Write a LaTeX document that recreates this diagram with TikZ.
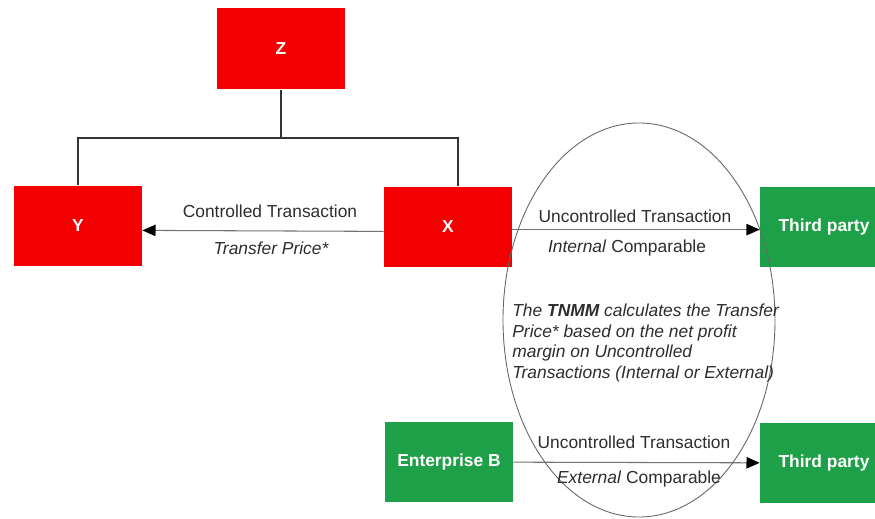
\documentclass[tikz,border=0pt]{standalone}
\usepackage{fontspec}
\setmainfont{Liberation Sans}
\usetikzlibrary{arrows.meta}

\definecolor{boxred}{RGB}{245,0,0}
\definecolor{boxgreen}{RGB}{30,160,72}
\definecolor{txtgray}{RGB}{45,45,45}

\begin{document}
\begin{tikzpicture}[x=0.02cm, y=-0.02cm,
    every node/.style={font=\fontsize{9.9}{11.9}\selectfont, text=txtgray},
    entity/.style={minimum width=2.56cm, minimum height=1.62cm, inner sep=0pt,
      text=white, font=\fontsize{9.9}{11.9}\selectfont\bfseries},
    related/.style={entity, fill=boxred},
    outside/.style={entity, fill=boxgreen},
    flow/.style={draw=black!55, line width=0.6pt, -{Triangle[length=7.5pt,width=6.5pt,black]}}]
  \useasboundingbox (0,0) rectangle (875,519);

  % group
  \node[related] (Z) at (281,49) {Z};
  \node[related] (Y) at (78,226) {Y};
  \node[related] (X) at (448,227) {X};
  \coordinate (bar) at (281,138);
  \draw[black!80, line width=0.6pt] (Z.south) -- (bar);
  \draw[black!80, line width=0.6pt] (Y.north) |- (bar) -| ([xshift=5.7pt]X.north);

  % third parties
  \node[outside] (T1) at (824,227) {Third party};
  \node[outside] (B) at (449,462) {Enterprise B};
  \node[outside] (T2) at (824,463) {Third party};

  \draw[flow] ([yshift=-2.5pt]X.west) -- ([yshift=-2.5pt]Y.east);
  \draw[flow] ([yshift=-1.5pt]X.east) -- ([yshift=-1.5pt]T1.west);
  \draw[flow] (B) -- (T2);

  \draw[black!60, line width=0.5pt] (639,320) ellipse [x radius=136, y radius=197];

  % labels
  \node (ct) at (270,211) {Controlled Transaction};
  \node (tp) at (271,248) {\itshape Transfer Price*};
  \node (ut) at (635,216) {Uncontrolled Transaction};
  \node (ic) at (627,248) {\itshape Internal\/\upshape{} Comparable};
  \node (ut2) at (634,442) {Uncontrolled Transaction};
  \node (ec) at (639,479) {\itshape External\/\upshape{} Comparable};
  \node[anchor=west, align=left, inner sep=0pt, font=\fontsize{9.9}{11.9}\selectfont\itshape] (note) at (512,343)
    {The \textbf{TNMM} calculates the Transfer\\Price* based on the net profit\\margin on Uncontrolled\\Transactions (Internal or External)};
\end{tikzpicture}
\end{document}
